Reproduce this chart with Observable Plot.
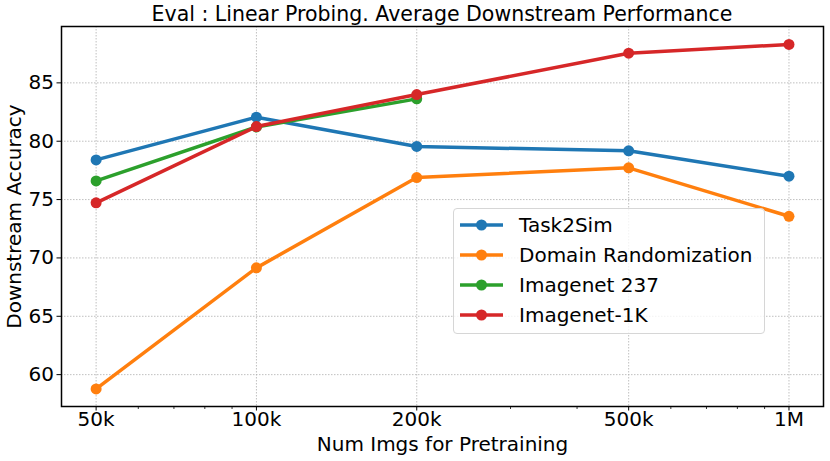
<!DOCTYPE html>
<html>
<head>
<meta charset="utf-8">
<script src="https://cdn.jsdelivr.net/npm/d3@7"></script>
<script src="https://cdn.jsdelivr.net/npm/@observablehq/plot@0.6"></script>
<style>
  html, body { margin: 0; padding: 0; background: white; }
  #wrap { position: relative; width: 830px; height: 461px; font-family: "DejaVu Sans", sans-serif; }
  #title { height: 24px; line-height: 28px; font-size: 20.5px; text-align: center; padding-left: 61px; padding-right: 7px; box-sizing: border-box; width: 830px; white-space: nowrap; }
  #legend { position: absolute; left: 453px; top: 208px; width: 312px; height: 126px; box-sizing: border-box;
            border: 1px solid #d6d6d6; border-radius: 4px; background: rgba(255,255,255,0.8); padding-top: 1px; }
  .row { height: 30px; display: flex; align-items: center; font-size: 20px; }
  .row svg { margin-left: 6px; margin-right: 16px; }
</style>
</head>
<body>
<div id="wrap">
  <div id="title">Eval : Linear Probing. Average Downstream Performance</div>
  <div id="chart"></div>
  <div id="legend"></div>
</div>
<script>
const xValues = [50000, 100000, 200000, 500000, 1000000];
const xLabels = ["50k", "100k", "200k", "500k", "1M"];
const minorTicks = [60000, 70000, 80000, 90000, 300000, 400000, 600000, 700000, 800000, 900000];
const yTicks = [60, 65, 70, 75, 80, 85];
const series = ["Task2Sim", "Domain Randomization", "Imagenet 237", "Imagenet-1K"];
const colors = ["#1f77b4", "#ff7f0e", "#2ca02c", "#d62728"];
const task2sim = [78.4, 82.06, 79.55, 79.18, 77.0];
const domainRandomization = [58.78, 69.15, 76.89, 77.72, 73.57];
const imagenet237 = [76.6, 81.22, 83.63];
const imagenet1k = [74.72, 81.26, 84.0, 87.54, 88.29];

const seriesValues = [task2sim, domainRandomization, imagenet237, imagenet1k];
const rows = series.map((s, i) => seriesValues[i].map((v, j) => ({series: s, x: xValues[j], y: v})));
const labelOf = new Map(xValues.map((v, i) => [v, xLabels[i]]));

const gridStyle = {stroke: "#b0b0b0", strokeOpacity: 1, strokeWidth: 0.8, strokeDasharray: "1.5,1.5"};

const seriesMarks = rows.flatMap((data, i) => [
  Plot.line(data, {x: "x", y: "y", stroke: colors[i], strokeWidth: 3.5}),
  Plot.dot(data, {x: "x", y: "y", fill: colors[i], r: 5.5})
]);

const chart = Plot.plot({
  width: 830,
  height: 437,
  marginTop: 2,
  marginLeft: 61,
  marginRight: 7,
  marginBottom: 55,
  style: {fontFamily: "DejaVu Sans, sans-serif", fontSize: "20px", color: "black", background: "white", overflow: "visible"},
  x: {type: "log", domain: [43050, 1161000]},
  y: {domain: [57.27, 89.83]},
  marks: [
    Plot.gridX(xValues, gridStyle),
    Plot.gridY(yTicks, gridStyle),
    Plot.axisX(minorTicks, {tickSize: 3, tickFormat: () => "", strokeWidth: 0.8, label: null}),
    Plot.axisX(xValues, {tickSize: 4.5, tickPadding: 1, tickFormat: d => labelOf.get(d), fontSize: 20, strokeWidth: 1,
      label: "Num Imgs for Pretraining", labelAnchor: "center", labelArrow: "none", labelOffset: 44}),
    Plot.axisY(yTicks, {tickSize: 4.5, tickPadding: 3, fontSize: 20, strokeWidth: 1,
      label: "Downstream Accuracy", labelAnchor: "center", labelArrow: "none", labelOffset: 55}),
    ...seriesMarks,
    Plot.frame({stroke: "black", strokeWidth: 1.5})
  ]
});
document.getElementById("chart").appendChild(chart);

const legend = document.getElementById("legend");
series.forEach((s, i) => {
  const row = document.createElement("div");
  row.className = "row";
  row.innerHTML = `<svg width="43" height="14"><line x1="0" y1="7" x2="43" y2="7" stroke="${colors[i]}" stroke-width="3.5"/><circle cx="21.5" cy="7" r="5.5" fill="${colors[i]}"/></svg><span>${s}</span>`;
  legend.appendChild(row);
});
</script>
</body>
</html>
